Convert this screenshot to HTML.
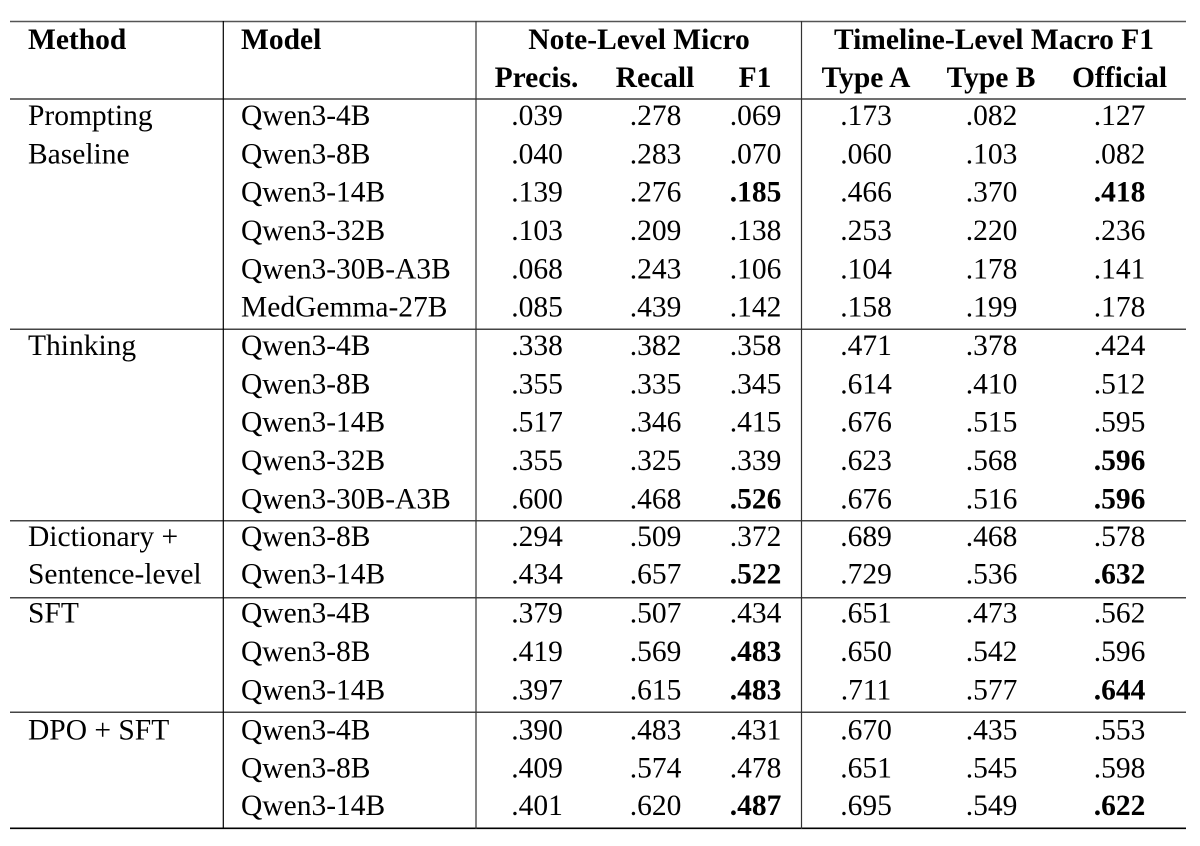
<!DOCTYPE html>
<html>
<head>
<meta charset="utf-8">
<style>
html,body{margin:0;padding:0;background:#fff;}
svg{display:block;}
text{font-family:"Liberation Serif","Times New Roman",serif;font-size:29.5px;fill:#000;}
.b{font-weight:bold;}
.c{text-anchor:middle;}
</style>
</head>
<body>
<svg width="1200" height="846" viewBox="0 0 1200 846" xmlns="http://www.w3.org/2000/svg">
<!-- rules -->
<line x1="10" y1="21.5" x2="1186" y2="21.5" stroke="#555" stroke-width="1.6"/>
<line x1="10" y1="99" x2="1186" y2="99" stroke="#707070" stroke-width="2"/>
<line x1="10" y1="329.3" x2="1186" y2="329.3" stroke="#444" stroke-width="1.5"/>
<line x1="10" y1="520.7" x2="1186" y2="520.7" stroke="#444" stroke-width="1.5"/>
<line x1="10" y1="597.7" x2="1186" y2="597.7" stroke="#444" stroke-width="1.5"/>
<line x1="10" y1="712.3" x2="1186" y2="712.3" stroke="#444" stroke-width="1.5"/>
<line x1="10" y1="828.3" x2="1186" y2="828.3" stroke="#000" stroke-width="1.6"/>
<!-- verticals -->
<line x1="223.3" y1="21" x2="223.3" y2="829" stroke="#000" stroke-width="1.2"/>
<line x1="476" y1="21" x2="476" y2="829" stroke="#333" stroke-width="1.2"/>
<line x1="801.5" y1="21" x2="801.5" y2="829" stroke="#333" stroke-width="1.2"/>

<!-- header -->
<text class="b" x="28" y="49">Method</text>
<text class="b" x="241" y="49">Model</text>
<text class="b c" x="639" y="49">Note-Level Micro</text>
<text class="b c" x="994" y="49">Timeline-Level Macro F1</text>
<text class="b c" x="536.5" y="87">Precis.</text>
<text class="b c" x="655" y="87">Recall</text>
<text class="b c" x="755" y="87">F1</text>
<text class="b c" x="866" y="87">Type A</text>
<text class="b c" x="991" y="87">Type B</text>
<text class="b c" x="1119.5" y="87">Official</text>

<!-- method labels -->
<text x="28" y="125">Prompting</text>
<text x="28" y="163.3">Baseline</text>
<text x="28" y="355">Thinking</text>
<text x="28" y="546">Dictionary +</text>
<text x="28" y="583.5">Sentence-level</text>
<text x="28" y="622.5">SFT</text>
<text x="28" y="739.5">DPO + SFT</text>

<!-- rows -->
<g>
<text x="241" y="125">Qwen3-4B</text>
<text class="c" x="537" y="125">.039</text><text class="c" x="655.5" y="125">.278</text><text class="c" x="755.5" y="125">.069</text>
<text class="c" x="866" y="125">.173</text><text class="c" x="991.5" y="125">.082</text><text class="c" x="1119.5" y="125">.127</text>

<text x="241" y="163.3">Qwen3-8B</text>
<text class="c" x="537" y="163.3">.040</text><text class="c" x="655.5" y="163.3">.283</text><text class="c" x="755.5" y="163.3">.070</text>
<text class="c" x="866" y="163.3">.060</text><text class="c" x="991.5" y="163.3">.103</text><text class="c" x="1119.5" y="163.3">.082</text>

<text x="241" y="201.7">Qwen3-14B</text>
<text class="c" x="537" y="201.7">.139</text><text class="c" x="655.5" y="201.7">.276</text><text class="c b" x="755.5" y="201.7">.185</text>
<text class="c" x="866" y="201.7">.466</text><text class="c" x="991.5" y="201.7">.370</text><text class="c b" x="1119.5" y="201.7">.418</text>

<text x="241" y="240">Qwen3-32B</text>
<text class="c" x="537" y="240">.103</text><text class="c" x="655.5" y="240">.209</text><text class="c" x="755.5" y="240">.138</text>
<text class="c" x="866" y="240">.253</text><text class="c" x="991.5" y="240">.220</text><text class="c" x="1119.5" y="240">.236</text>

<text x="241" y="278.3">Qwen3-30B-A3B</text>
<text class="c" x="537" y="278.3">.068</text><text class="c" x="655.5" y="278.3">.243</text><text class="c" x="755.5" y="278.3">.106</text>
<text class="c" x="866" y="278.3">.104</text><text class="c" x="991.5" y="278.3">.178</text><text class="c" x="1119.5" y="278.3">.141</text>

<text x="241" y="316.7">MedGemma-27B</text>
<text class="c" x="537" y="316.7">.085</text><text class="c" x="655.5" y="316.7">.439</text><text class="c" x="755.5" y="316.7">.142</text>
<text class="c" x="866" y="316.7">.158</text><text class="c" x="991.5" y="316.7">.199</text><text class="c" x="1119.5" y="316.7">.178</text>

<text x="241" y="355">Qwen3-4B</text>
<text class="c" x="537" y="355">.338</text><text class="c" x="655.5" y="355">.382</text><text class="c" x="755.5" y="355">.358</text>
<text class="c" x="866" y="355">.471</text><text class="c" x="991.5" y="355">.378</text><text class="c" x="1119.5" y="355">.424</text>

<text x="241" y="393.3">Qwen3-8B</text>
<text class="c" x="537" y="393.3">.355</text><text class="c" x="655.5" y="393.3">.335</text><text class="c" x="755.5" y="393.3">.345</text>
<text class="c" x="866" y="393.3">.614</text><text class="c" x="991.5" y="393.3">.410</text><text class="c" x="1119.5" y="393.3">.512</text>

<text x="241" y="431.7">Qwen3-14B</text>
<text class="c" x="537" y="431.7">.517</text><text class="c" x="655.5" y="431.7">.346</text><text class="c" x="755.5" y="431.7">.415</text>
<text class="c" x="866" y="431.7">.676</text><text class="c" x="991.5" y="431.7">.515</text><text class="c" x="1119.5" y="431.7">.595</text>

<text x="241" y="470">Qwen3-32B</text>
<text class="c" x="537" y="470">.355</text><text class="c" x="655.5" y="470">.325</text><text class="c" x="755.5" y="470">.339</text>
<text class="c" x="866" y="470">.623</text><text class="c" x="991.5" y="470">.568</text><text class="c b" x="1119.5" y="470">.596</text>

<text x="241" y="508.3">Qwen3-30B-A3B</text>
<text class="c" x="537" y="508.3">.600</text><text class="c" x="655.5" y="508.3">.468</text><text class="c b" x="755.5" y="508.3">.526</text>
<text class="c" x="866" y="508.3">.676</text><text class="c" x="991.5" y="508.3">.516</text><text class="c b" x="1119.5" y="508.3">.596</text>

<text x="241" y="546">Qwen3-8B</text>
<text class="c" x="537" y="546">.294</text><text class="c" x="655.5" y="546">.509</text><text class="c" x="755.5" y="546">.372</text>
<text class="c" x="866" y="546">.689</text><text class="c" x="991.5" y="546">.468</text><text class="c" x="1119.5" y="546">.578</text>

<text x="241" y="583.5">Qwen3-14B</text>
<text class="c" x="537" y="583.5">.434</text><text class="c" x="655.5" y="583.5">.657</text><text class="c b" x="755.5" y="583.5">.522</text>
<text class="c" x="866" y="583.5">.729</text><text class="c" x="991.5" y="583.5">.536</text><text class="c b" x="1119.5" y="583.5">.632</text>

<text x="241" y="622.5">Qwen3-4B</text>
<text class="c" x="537" y="622.5">.379</text><text class="c" x="655.5" y="622.5">.507</text><text class="c" x="755.5" y="622.5">.434</text>
<text class="c" x="866" y="622.5">.651</text><text class="c" x="991.5" y="622.5">.473</text><text class="c" x="1119.5" y="622.5">.562</text>

<text x="241" y="661">Qwen3-8B</text>
<text class="c" x="537" y="661">.419</text><text class="c" x="655.5" y="661">.569</text><text class="c b" x="755.5" y="661">.483</text>
<text class="c" x="866" y="661">.650</text><text class="c" x="991.5" y="661">.542</text><text class="c" x="1119.5" y="661">.596</text>

<text x="241" y="699.5">Qwen3-14B</text>
<text class="c" x="537" y="699.5">.397</text><text class="c" x="655.5" y="699.5">.615</text><text class="c b" x="755.5" y="699.5">.483</text>
<text class="c" x="866" y="699.5">.711</text><text class="c" x="991.5" y="699.5">.577</text><text class="c b" x="1119.5" y="699.5">.644</text>

<text x="241" y="739.5">Qwen3-4B</text>
<text class="c" x="537" y="739.5">.390</text><text class="c" x="655.5" y="739.5">.483</text><text class="c" x="755.5" y="739.5">.431</text>
<text class="c" x="866" y="739.5">.670</text><text class="c" x="991.5" y="739.5">.435</text><text class="c" x="1119.5" y="739.5">.553</text>

<text x="241" y="777.3">Qwen3-8B</text>
<text class="c" x="537" y="777.3">.409</text><text class="c" x="655.5" y="777.3">.574</text><text class="c" x="755.5" y="777.3">.478</text>
<text class="c" x="866" y="777.3">.651</text><text class="c" x="991.5" y="777.3">.545</text><text class="c" x="1119.5" y="777.3">.598</text>

<text x="241" y="815">Qwen3-14B</text>
<text class="c" x="537" y="815">.401</text><text class="c" x="655.5" y="815">.620</text><text class="c b" x="755.5" y="815">.487</text>
<text class="c" x="866" y="815">.695</text><text class="c" x="991.5" y="815">.549</text><text class="c b" x="1119.5" y="815">.622</text>
</g>
</svg>
</body>
</html>
